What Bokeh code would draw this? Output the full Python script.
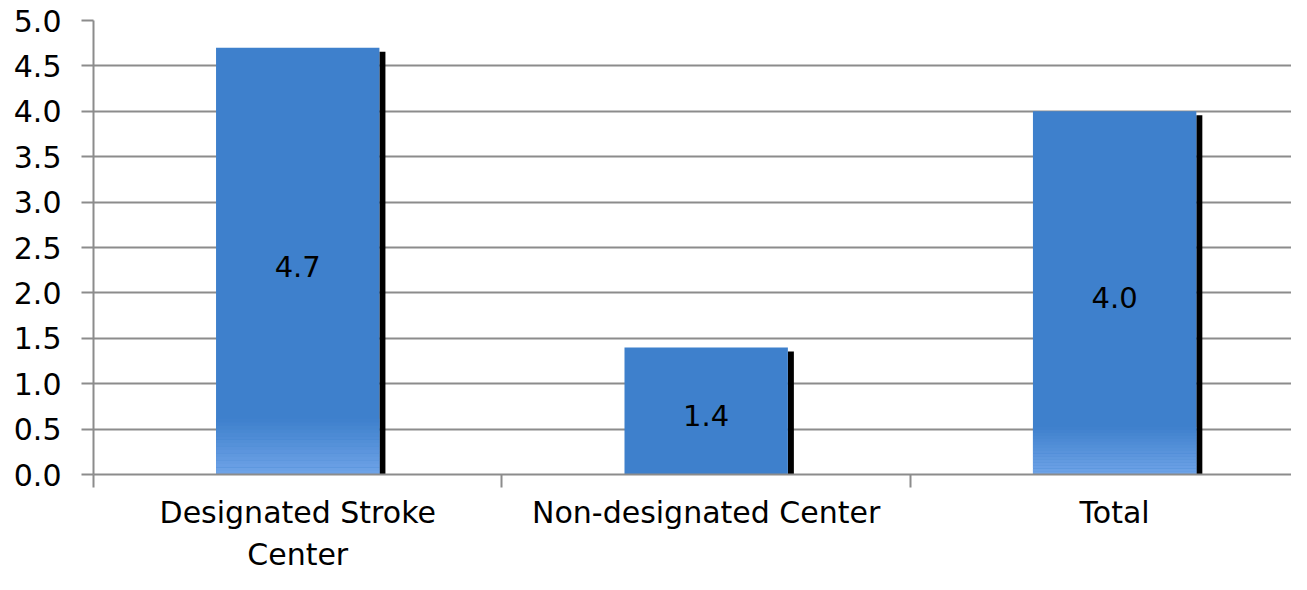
from bokeh.plotting import figure
from bokeh.models import Range1d, FixedTicker, LinearAxis, NumeralTickFormatter, ColumnDataSource, Grid
from bokeh.core.properties import value
from bokeh.embed import file_html
from bokeh.resources import INLINE

categories = ["Designated Stroke\nCenter", "Non-designated Center", "Total"]
values = [4.7, 1.4, 4.0]
label_texts = ["4.7", "1.4", "4.0"]
y_ticks = [0.0, 0.5, 1.0, 1.5, 2.0, 2.5, 3.0, 3.5, 4.0, 4.5, 5.0]

FONT = "DejaVu Sans"
BLUE = "#3e80cc"
LIGHT = (0x70, 0xa4, 0xe8)
GRID = "#8c8c8c"

centers = [i + 0.5 for i in range(len(categories))]
bounds = [float(i) for i in range(len(categories) + 1)]
bar_w = 0.40

p = figure(width=1291, height=574, output_backend="svg", toolbar_location=None,
           x_range=Range1d(0, 2.933), y_range=Range1d(0, 5),
           x_axis_type=None, y_axis_type=None,
           min_border_left=93, min_border_right=0, min_border_top=20, min_border_bottom=100)
p.outline_line_color = None
p.background_fill_color = "white"

# y axis
yax = LinearAxis(ticker=FixedTicker(ticks=y_ticks), formatter=NumeralTickFormatter(format="0.0"))
yax.axis_line_color = GRID
yax.axis_line_width = 2
yax.major_tick_line_color = GRID
yax.major_tick_line_width = 2
yax.major_tick_out = 12
yax.major_tick_in = 0
yax.minor_tick_line_color = None
yax.major_label_text_font = FONT
yax.major_label_text_font_size = "30px"
yax.major_label_text_color = "black"
yax.major_label_standoff = 20
p.add_layout(yax, "left")

g = Grid(dimension=1, ticker=yax.ticker, grid_line_color=GRID, grid_line_width=2)
p.add_layout(g)

# category axis: labels at centers, tick marks (minor) at boundaries
cax = LinearAxis(ticker=FixedTicker(ticks=centers, minor_ticks=bounds),
                 major_label_overrides={c: name for c, name in zip(centers, categories)})
cax.axis_line_color = GRID
cax.axis_line_width = 2
cax.major_tick_line_color = None
cax.major_tick_out = 0
cax.major_tick_in = 0
cax.minor_tick_line_color = GRID
cax.minor_tick_line_width = 2
cax.minor_tick_out = 13
cax.minor_tick_in = 0
cax.major_label_text_font = FONT
cax.major_label_text_font_size = "30px"
cax.major_label_text_color = "black"
cax.major_label_standoff = 7
cax.major_label_text_line_height = 1.2
p.add_layout(cax, "below")

# shadows
p.quad(left=[c + bar_w / 2 for c in centers], right=[c + bar_w / 2 + 0.0147 for c in centers],
       top=[v - 0.044 for v in values], bottom=[0] * len(values), fill_color="black", line_color=None)

# bars
p.quad(left=[c - bar_w / 2 for c in centers], right=[c + bar_w / 2 for c in centers],
       top=values, bottom=[0] * len(values), fill_color=BLUE, line_color=None)

# gradient at bar bottoms
def hexc(rgb):
    return "#%02x%02x%02x" % rgb

base = (0x3e, 0x80, 0xcc)
n = 16
gl, gr, gt, gb, gc = [], [], [], [], []
for c, v in zip(centers, values):
    frac = 0.13 if v > 2 else 0.0
    h = v * frac
    if h <= 0:
        continue
    for k in range(n):
        t = (k + 0.5) / n
        col = tuple(int(round(base[j] + (LIGHT[j] - base[j]) * t)) for j in range(3))
        top = h * (1 - k / n)
        bot = h * (1 - (k + 1) / n)
        gl.append(c - bar_w / 2)
        gr.append(c + bar_w / 2)
        gt.append(top + 0.002)
        gb.append(bot)
        gc.append(hexc(col))
p.quad(left=gl, right=gr, top=gt, bottom=gb, fill_color=gc, line_color=None)

# value labels
src = ColumnDataSource(dict(x=centers, y=[v / 2 for v in values], t=label_texts))
p.text(x="x", y="y", text="t", source=src, text_align="center", text_baseline="middle",
       y_offset=5, text_font=value(FONT), text_font_size="29px", text_color="black")

open("out.html", "w").write(file_html(p, INLINE))
